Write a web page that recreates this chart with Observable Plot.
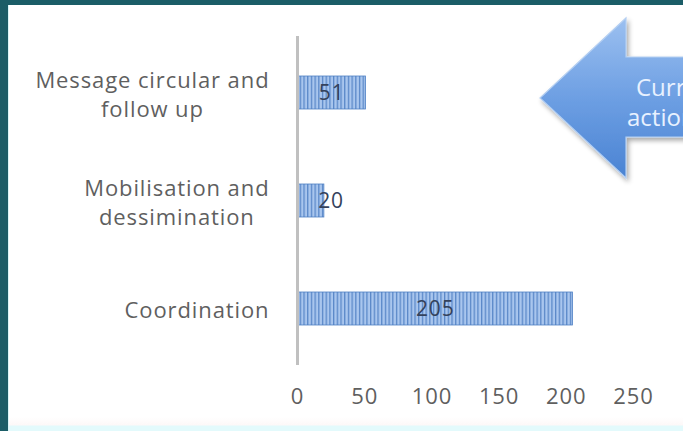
<!DOCTYPE html>
<html>
<head>
<meta charset="utf-8">
<script src="https://cdn.jsdelivr.net/npm/d3@7"></script>
<script src="https://cdn.jsdelivr.net/npm/@observablehq/plot@0.6"></script>
<style>
  html, body { margin: 0; padding: 0; width: 683px; height: 431px; overflow: hidden; background: #1b5d67; }
  #panel { position: absolute; left: 8px; top: 5px; width: 675px; height: 426px;
           background: linear-gradient(to bottom, #ffffff 0px, #ffffff 412px, #fdf8f8 420px, #e3fafc 421px, #e3fafc 426px);
           border-left: 1px solid #d8f6f8; box-sizing: border-box; }
  #chart { position: absolute; left: 0; top: 0; }
  #arrow { position: absolute; left: 0; top: 0; pointer-events: none; }
</style>
</head>
<body>
<div id="panel"></div>
<div id="chart"></div>
<svg id="arrow" width="683" height="431" xmlns="http://www.w3.org/2000/svg">
  <defs>
    <linearGradient id="arrowGrad" x1="0" y1="0" x2="0" y2="1">
      <stop offset="0" stop-color="#9cc0f0"/>
      <stop offset="0.5" stop-color="#6d9fe3"/>
      <stop offset="1" stop-color="#4a83d3"/>
    </linearGradient>
    <filter id="shadow" x="-20%" y="-20%" width="140%" height="140%">
      <feGaussianBlur in="SourceAlpha" stdDeviation="2.5"/>
      <feOffset dx="2" dy="3" result="b"/>
      <feComponentTransfer><feFuncA type="linear" slope="0.35"/></feComponentTransfer>
      <feMerge><feMergeNode/><feMergeNode in="SourceGraphic"/></feMerge>
    </filter>
  </defs>
  <polygon points="540,98 626,18 626,57 700,57 700,137 626,137 626,178"
           fill="url(#arrowGrad)" stroke="#b4cff2" stroke-width="1.2" filter="url(#shadow)"/>
  <text x="636" y="96" fill="#e8f1ff" font-family="Open Sans" font-size="24px">Current</text>
  <text x="627" y="126" fill="#e8f1ff" font-family="Open Sans" font-size="24px">actions</text>
</svg>
<script>
const categories = ["Message circular and\nfollow up", "Mobilisation and\ndessimination", "Coordination"];
const values = [51, 20, 205];
const xTicks = [0, 50, 100, 150, 200, 250];

const data = categories.map((c, i) => ({category: c, value: values[i]}));

const chart = Plot.plot({
  width: 683,
  height: 431,
  marginLeft: 297,
  marginRight: 50,
  marginTop: 36,
  marginBottom: 66,
  style: {background: "transparent", fontFamily: "Open Sans", fontSize: "22px", color: "#5f5f5f", letterSpacing: "0.9px"},
  x: {domain: [0, 250], axis: null},
  y: {domain: categories, paddingInner: 0.696, paddingOuter: 0.364, axis: null},
  marks: [
    Plot.barX(data, {x: "value", y: "category", fill: "url(#stripes)", stroke: "#4f80c4", strokeWidth: 0.8}),
    Plot.ruleX([0], {stroke: "#c0c0c0", strokeWidth: 3}),
    Plot.axisX({ticks: xTicks, tickSize: 0, tickPadding: 23, fill: "#5f5f5f", label: null}),
    Plot.axisY({tickSize: 0, tickPadding: 28, lineHeight: 1.32, fill: "#5f5f5f", label: null}),
    Plot.text(data, {x: d => Math.max(d.value / 2, 25), y: "category", text: d => String(d.value),
                     fill: "#34425c", fontSize: 21})
  ]
});

d3.select(chart).insert("defs", ":first-child").html(`
  <pattern id="stripes" patternUnits="userSpaceOnUse" width="3.7" height="10">
    <rect width="3.7" height="10" fill="#a9c6ee"/>
    <rect width="1.3" height="10" fill="#5a88c8"/>
  </pattern>`);

document.getElementById("chart").appendChild(chart);

// center the lines of each multi-line y tick label while keeping the block right-aligned
d3.select(chart).selectAll("g[aria-label='y-axis tick label'] text").each(function() {
  const tspans = d3.select(this).selectAll("tspan");
  if (tspans.size() < 2) return;
  let w = 0;
  tspans.each(function() { w = Math.max(w, this.getComputedTextLength()); });
  d3.select(this).attr("text-anchor", "middle");
  tspans.attr("x", -w / 2);
});
</script>
</body>
</html>
